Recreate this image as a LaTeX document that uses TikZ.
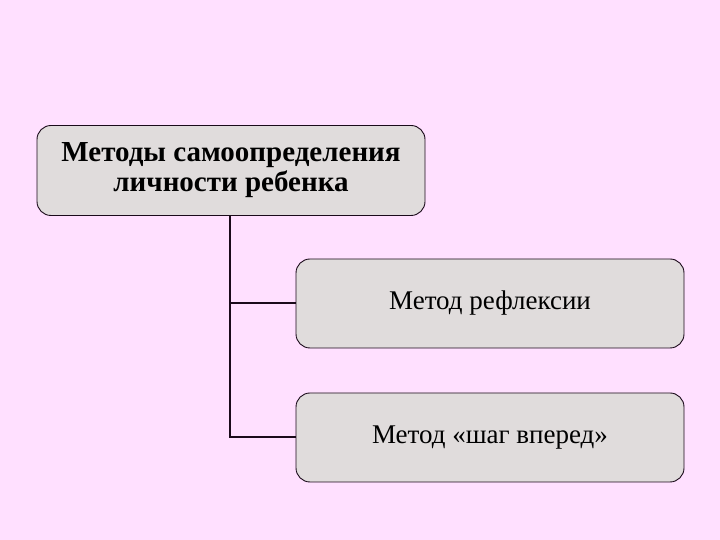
\documentclass[tikz,border=0pt]{standalone}
\usepackage{fontspec}
\setmainfont{Liberation Serif}
\definecolor{bgpink}{HTML}{FFE0FF}
\definecolor{boxgray}{HTML}{E0DCDC}
\definecolor{linedark}{HTML}{1A0A1A}
\begin{document}
\begin{tikzpicture}[x=1pt,y=1pt,
  box/.style={draw=linedark, line width=0.9pt, fill=boxgray, rounded corners=14pt, inner sep=0pt},
  conn/.style={draw=linedark, line width=2pt}]
\fill[bgpink] (0,0) rectangle (720,540);
\useasboundingbox (0,0) rectangle (720,540);
\node[box, minimum width=388pt, minimum height=90pt, align=center,
      font=\fontsize{29}{30}\selectfont\bfseries] (top) at (231,369.5)
  {Методы самоопределения\\личности ребенка};
\node[box, minimum width=388pt, minimum height=89pt,
      font=\fontsize{27}{30}\selectfont] (refl) at (490,236.5) {Метод рефлексии};
\node[box, minimum width=388pt, minimum height=89pt,
      font=\fontsize{27}{30}\selectfont] (step) at (490,102.5) {Метод «шаг вперед»};
\draw[conn] (230,0 |- top.south) -- (230,0 |- step.west) -- (step.west);
\draw[conn] (230,0 |- refl.west) -- (refl.west);
\end{tikzpicture}
\end{document}
